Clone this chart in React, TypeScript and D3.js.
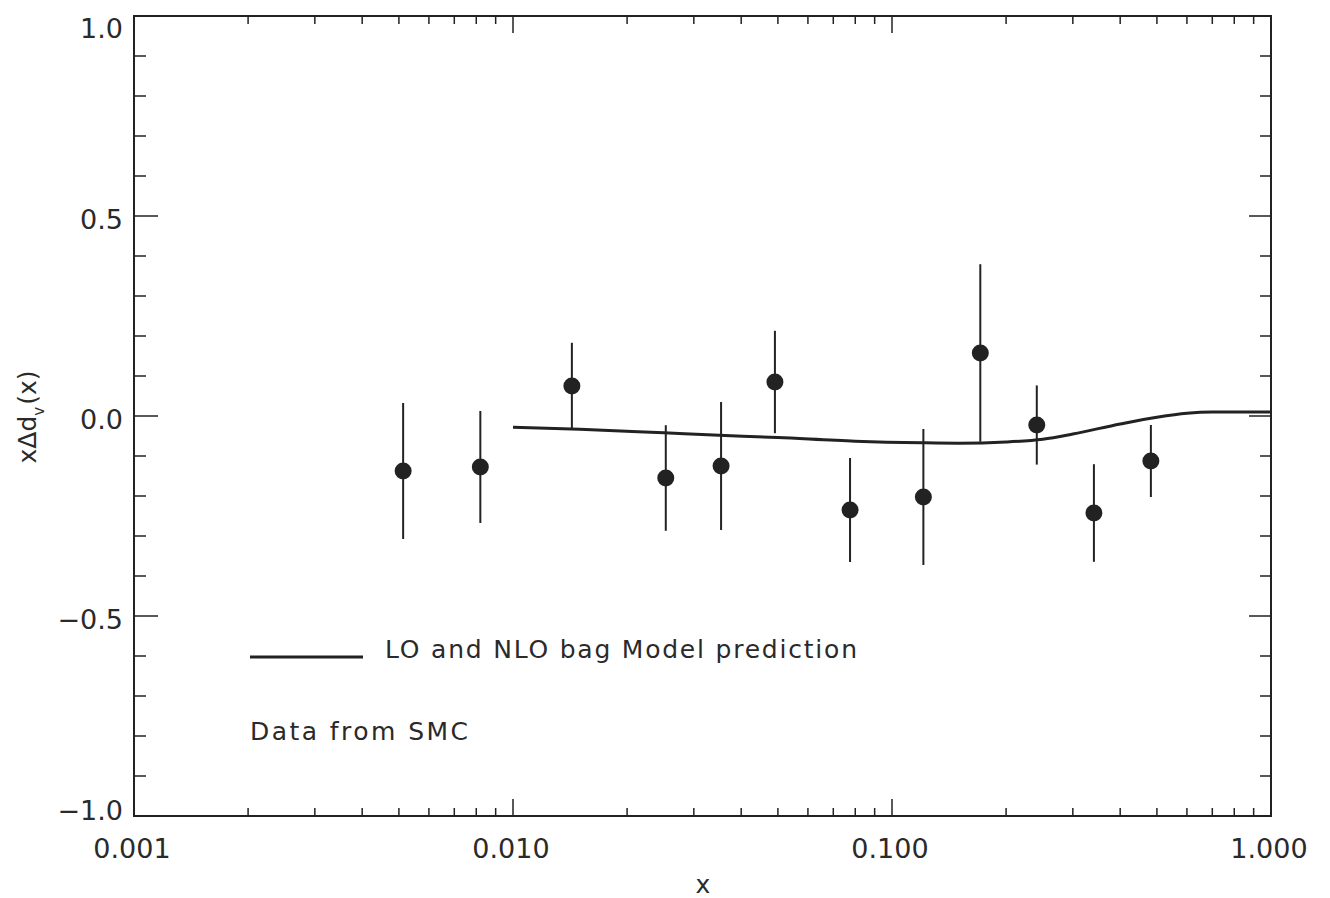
import React from "react";
import * as d3 from "d3";

const W = 1330;
const H = 898;

// SMC data points: x, value, error
const dataX = [0.00513, 0.0082, 0.0143, 0.0253, 0.0354, 0.0491, 0.0775, 0.121, 0.171, 0.241, 0.341, 0.482];
const dataY = [-0.1375, -0.1275, 0.075, -0.155, -0.125, 0.085, -0.235, -0.2025, 0.1575, -0.0225, -0.2425, -0.1125];
const dataErr = [0.17, 0.14, 0.108, 0.132, 0.16, 0.128, 0.13, 0.17, 0.222, 0.099, 0.122, 0.09];

// Bag model curve
const curveX = [0.01, 0.015, 0.025, 0.035, 0.05, 0.08, 0.12, 0.15, 0.2, 0.25, 0.3, 0.4, 0.5, 0.6, 0.7, 0.85, 1.0];
const curveY = [-0.028, -0.033, -0.042, -0.048, -0.054, -0.063, -0.067, -0.068, -0.065, -0.058, -0.045, -0.02, -0.003, 0.007, 0.01, 0.01, 0.01];

const xTickValues = [0.001, 0.01, 0.1, 1.0];
const xTickLabels = ["0.001", "0.010", "0.100", "1.000"];
const yTickValues = [-1.0, -0.5, 0.0, 0.5, 1.0];
const yTickLabels = ["\u22121.0", "\u22120.5", "0.0", "0.5", "1.0"];

const legendLineText = "LO and NLO bag Model prediction";
const legendDataText = "Data from SMC";

const FONT = "'DejaVu Sans', 'Liberation Sans', sans-serif";
const INK = "#222";
const TXT = "#2a2a2a";

export default function App() {
  const left = 134, right = 1271, top = 16, bottom = 816;
  const x = d3.scaleLog().domain([0.001, 1]).range([left, right]);
  const y = d3.scaleLinear().domain([-1, 1]).range([bottom, top]);

  const minorX: number[] = [];
  for (const dec of [0.001, 0.01, 0.1]) {
    for (let k = 2; k <= 9; k++) minorX.push(dec * k);
  }
  const minorY: number[] = d3.range(-10, 11).map((i) => i / 10).filter((v) => Math.abs(Math.round(v * 10) % 5) !== 0);

  const line = d3
    .line<number>()
    .x((_, i) => x(curveX[i]))
    .y((d) => y(d))
    .curve(d3.curveMonotoneX);

  return (
    <svg width={W} height={H} style={{ display: "block", position: "absolute", left: 0, top: 0, background: "#fff" }}>
      <rect x={0} y={0} width={W} height={H} fill="#fff" />
      {/* frame */}
      <rect x={left} y={top} width={right - left} height={bottom - top} fill="none" stroke={INK} strokeWidth={2} />

      {/* x ticks */}
      {xTickValues.map((v, i) => (
        <g key={"xm" + i}>
          <line x1={x(v)} x2={x(v)} y1={bottom} y2={bottom - 17} stroke={INK} strokeWidth={1.5} />
          <line x1={x(v)} x2={x(v)} y1={top} y2={top + 17} stroke={INK} strokeWidth={1.5} />
          <text x={x(v) - 2} y={858} textAnchor="middle" fontFamily={FONT} fontSize={27} fill={TXT}>
            {xTickLabels[i]}
          </text>
        </g>
      ))}
      {minorX.map((v, i) => (
        <g key={"xn" + i}>
          <line x1={x(v)} x2={x(v)} y1={bottom} y2={bottom - 8} stroke={INK} strokeWidth={1.5} />
          <line x1={x(v)} x2={x(v)} y1={top} y2={top + 8} stroke={INK} strokeWidth={1.5} />
        </g>
      ))}

      {/* y ticks */}
      {yTickValues.map((v, i) => (
        <g key={"ym" + i}>
          <line x1={left} x2={left + 24} y1={y(v)} y2={y(v)} stroke={INK} strokeWidth={1.5} />
          <line x1={right} x2={right - 22} y1={y(v)} y2={y(v)} stroke={INK} strokeWidth={1.5} />
          <text
            x={123}
            y={Math.min(Math.max(y(v) + 3, 28), 810) + 10}
            textAnchor="end"
            fontFamily={FONT}
            fontSize={27}
            fill={TXT}
          >
            {yTickLabels[i]}
          </text>
        </g>
      ))}
      {minorY.map((v, i) => (
        <g key={"yn" + i}>
          <line x1={left} x2={left + 12} y1={y(v)} y2={y(v)} stroke={INK} strokeWidth={1.5} />
          <line x1={right} x2={right - 11} y1={y(v)} y2={y(v)} stroke={INK} strokeWidth={1.5} />
        </g>
      ))}

      {/* axis titles */}
      <text x={703} y={893} textAnchor="middle" fontFamily={FONT} fontSize={25} fill={TXT}>
        x
      </text>
      <text
        transform="translate(36,417) rotate(-90)"
        textAnchor="middle"
        fontFamily={FONT}
        fontSize={25}
        fill={TXT}
      >
        <tspan>x{"\u0394"}d</tspan>
        <tspan dy={8} fontSize={15}>v</tspan>
        <tspan dy={-8} dx={2}>(x)</tspan>
      </text>

      {/* model curve */}
      <path d={line(curveY) || ""} fill="none" stroke={INK} strokeWidth={3} />

      {/* data with error bars */}
      {dataX.map((xv, i) => (
        <g key={"d" + i}>
          <line
            x1={x(xv)}
            x2={x(xv)}
            y1={y(dataY[i] + dataErr[i])}
            y2={y(dataY[i] - dataErr[i])}
            stroke={INK}
            strokeWidth={2}
          />
          <circle cx={x(xv)} cy={y(dataY[i])} r={8.5} fill={INK} />
        </g>
      ))}

      {/* legend */}
      <line x1={250} x2={363} y1={657} y2={657} stroke={INK} strokeWidth={3} />
      <text x={385} y={658} fontFamily={FONT} fontSize={25} fill={TXT} textLength={472} lengthAdjust="spacing">
        {legendLineText}
      </text>
      <text x={250} y={740} fontFamily={FONT} fontSize={25} fill={TXT} textLength={218} lengthAdjust="spacing">
        {legendDataText}
      </text>
    </svg>
  );
}
